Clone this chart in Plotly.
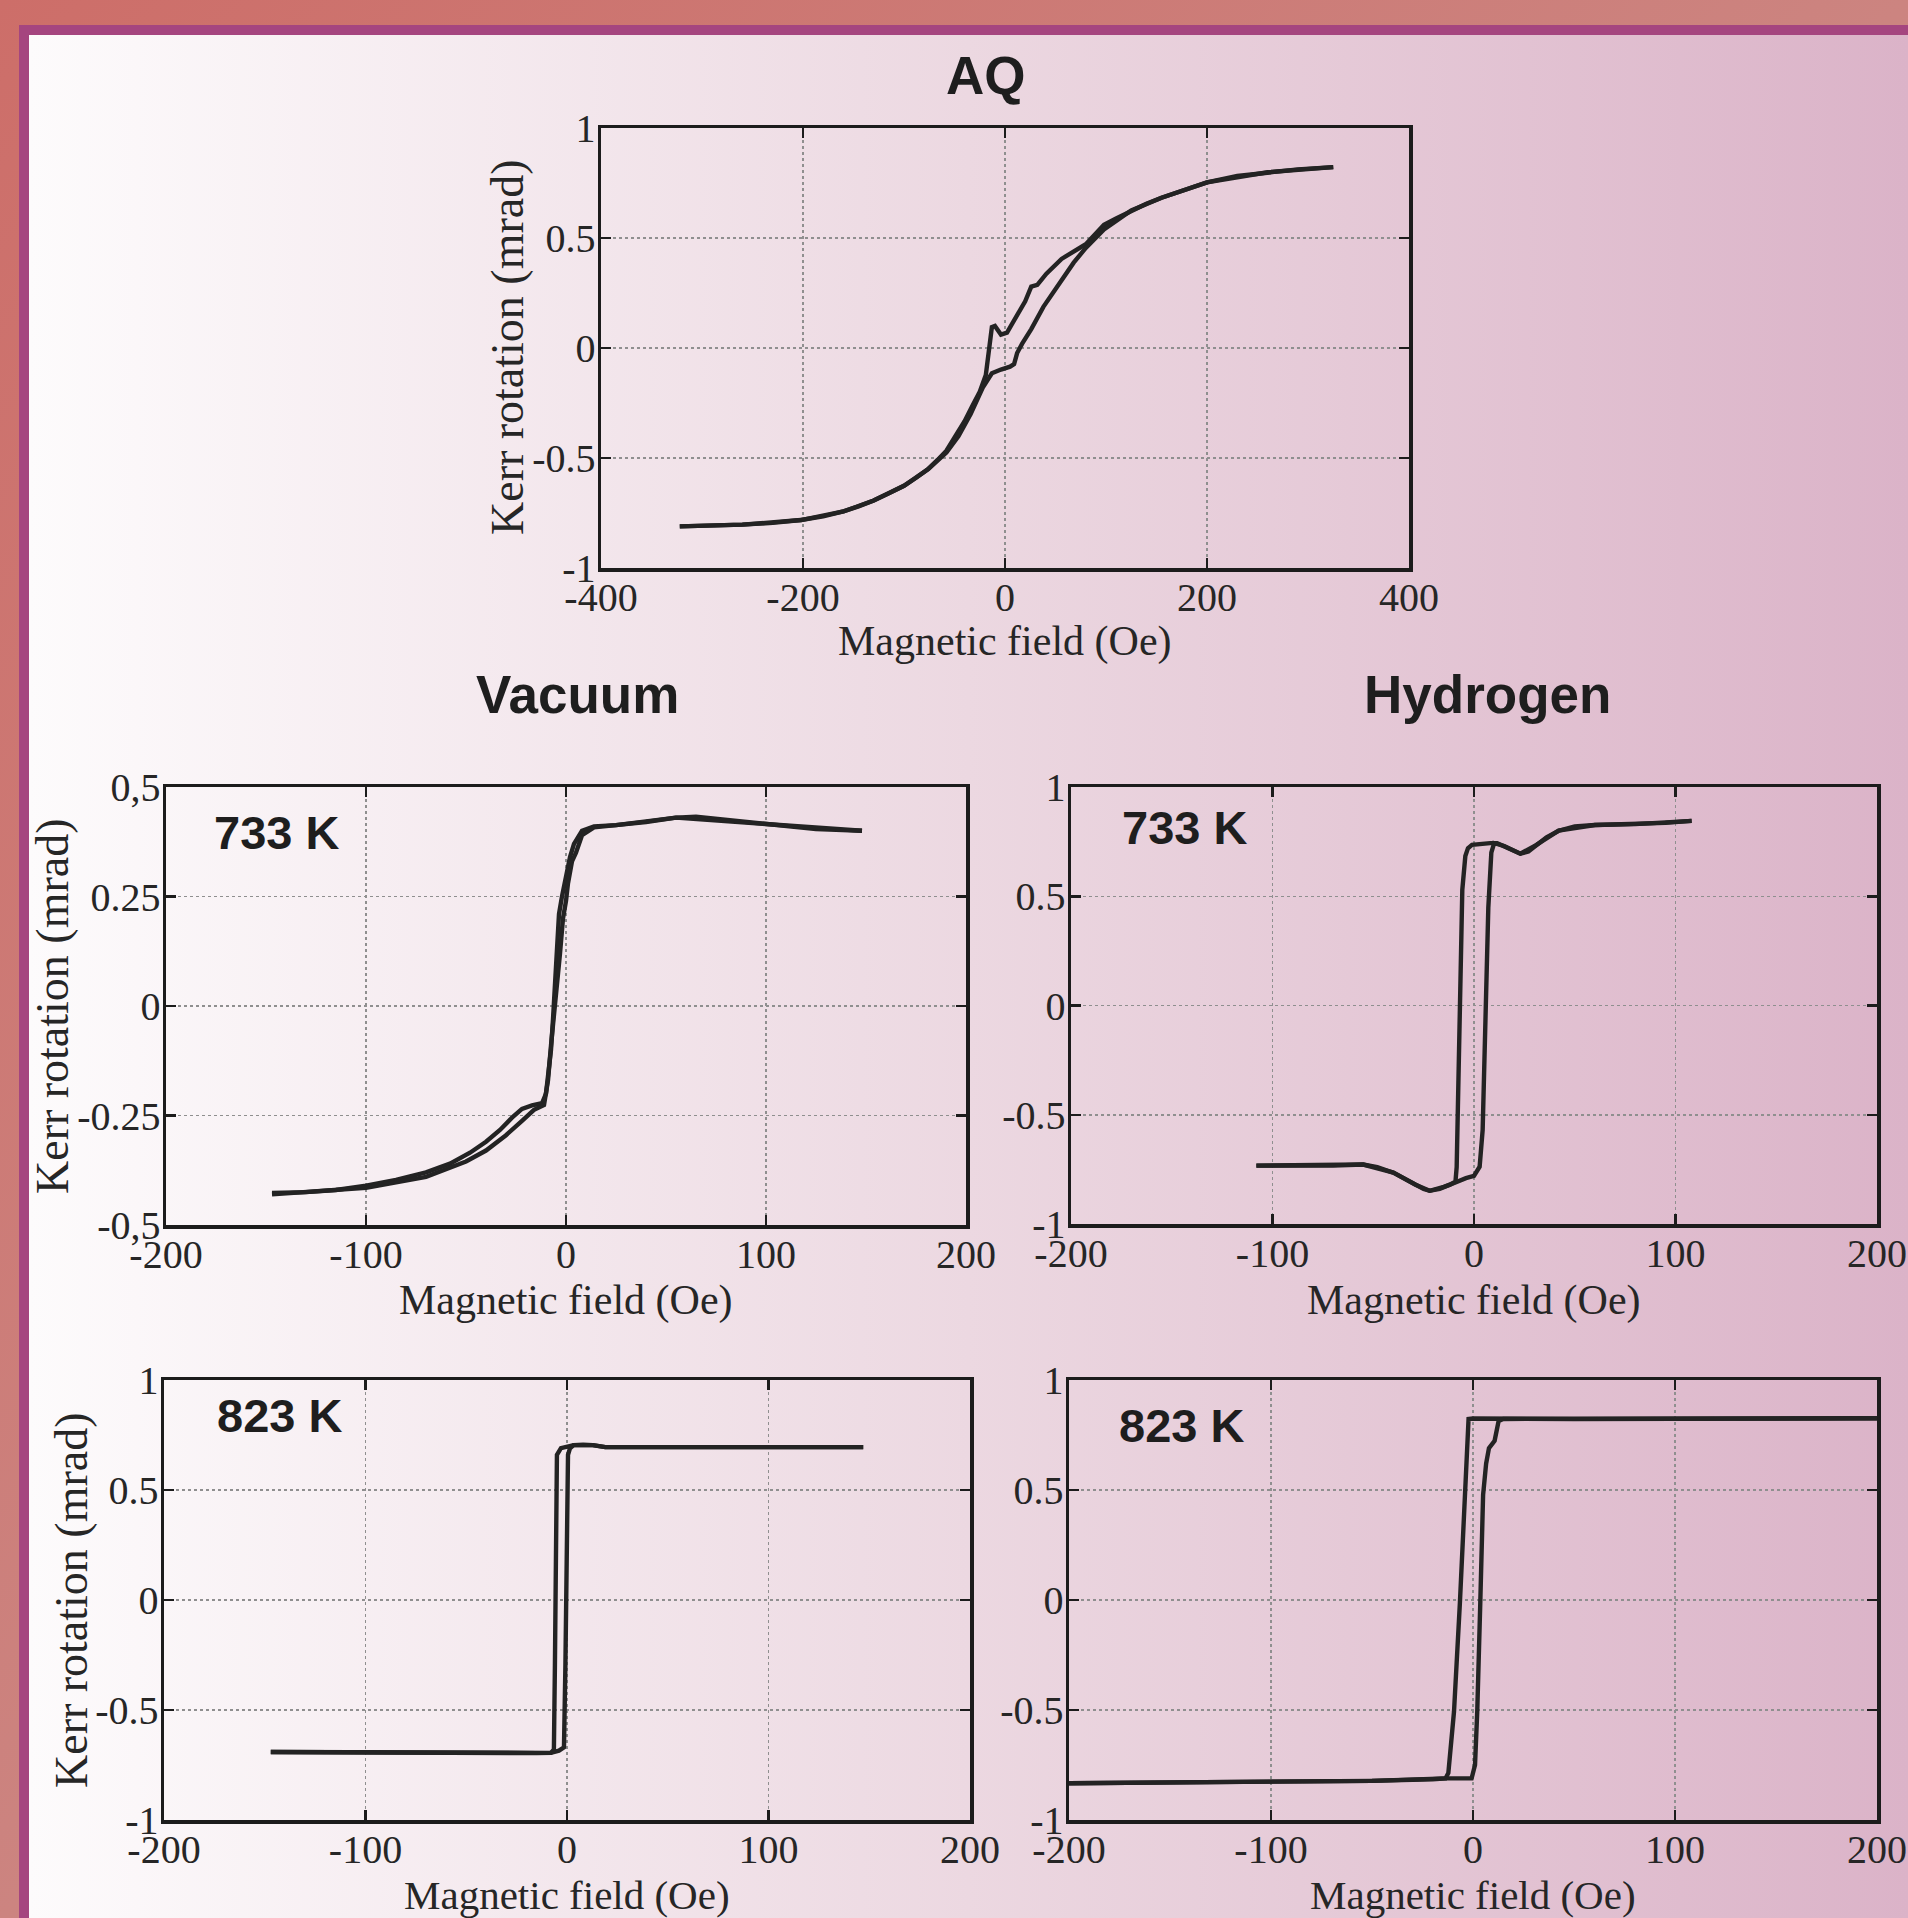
import base64
import plotly.graph_objects as go

W, H = 1908, 1918

# ---------------- data ----------------
# AQ sample: descending branch (upper-left) and ascending branch (lower-right)
aq_field_desc = [-322, -290, -260, -230, -202, -180, -160, -145, -130, -115, -100, -88, -76, -67, -58,
                 -49, -40, -32, -25, -19, -16, -14, -13, -10, -4, 2, 11, 20, 26, 32,
                 41, 56, 80, 98, 110, 125, 140, 155, 170, 185, 200, 230, 260, 290, 325]
aq_kerr_desc = [-0.811, -0.808, -0.803, -0.795, -0.782, -0.765, -0.743, -0.72, -0.693, -0.66, -0.626, -0.59, -0.55, -0.51, -0.467,
                -0.40, -0.333, -0.26, -0.199, -0.123, -0.03, 0.053, 0.095, 0.10, 0.061, 0.07, 0.137, 0.212, 0.279, 0.287,
                0.338, 0.405, 0.472, 0.56, 0.589, 0.625, 0.656, 0.683, 0.706, 0.73, 0.753, 0.782, 0.799, 0.812, 0.822]
aq_field_asc = [-322, -260, -202, -160, -130, -100, -76, -58, -46, -34, -22, -13, -4, 5, 9,
                12, 17, 26, 38, 53, 68, 80, 98, 125, 155, 200, 260, 325]
aq_kerr_asc = [-0.811, -0.803, -0.782, -0.743, -0.693, -0.626, -0.55, -0.475, -0.40, -0.30, -0.18, -0.115, -0.098, -0.085, -0.073,
               -0.023, 0.02, 0.086, 0.187, 0.287, 0.388, 0.455, 0.539, 0.625, 0.683, 0.753, 0.799, 0.822]

# Vacuum, 733 K
v733_field_desc = [-147, -130, -115, -100, -85, -70, -58, -48, -40, -33, -27, -22, -17, -12, -10,
                   -8.5, -7.5, -6.5, -5.5, -4.5, -3.5, -2, 0, 2, 4, 8, 14, 25, 40, 55,
                   65, 80, 95, 110, 125, 135, 148]
v733_kerr_desc = [-0.427, -0.425, -0.42, -0.41, -0.397, -0.38, -0.36, -0.335, -0.31, -0.283, -0.255, -0.235, -0.227, -0.222, -0.20,
                  -0.15, -0.10, -0.03, 0.06, 0.14, 0.21, 0.25, 0.30, 0.34, 0.37, 0.40, 0.41, 0.413, 0.42, 0.43,
                  0.432, 0.425, 0.417, 0.41, 0.404, 0.402, 0.40]
v733_field_asc = [-147, -100, -70, -50, -40, -30, -22, -16, -11, -9, -7.5, -6, -4.5, -3, -1.5,
                  0, 1, 3, 5, 8, 14, 25, 55, 95, 148]
v733_kerr_asc = [-0.43, -0.415, -0.39, -0.355, -0.33, -0.295, -0.262, -0.237, -0.226, -0.17, -0.09, -0.03, 0.05, 0.12, 0.20,
                 0.24, 0.28, 0.33, 0.35, 0.39, 0.408, 0.413, 0.43, 0.417, 0.40]

# Hydrogen, 733 K
h733_field_desc = [-108, -90, -70, -55, -48, -40, -34, -29, -25, -22, -19, -15, -12, -9.2, -8.6,
                   -7.2, -5.8, -4.3, -3, -1, 3, 8, 11.5, 15, 19, 23, 27, 31, 36, 42,
                   50, 60, 70, 80, 95, 108]
h733_kerr_desc = [-0.733, -0.735, -0.733, -0.728, -0.74, -0.765, -0.795, -0.82, -0.84, -0.848, -0.842, -0.83, -0.82, -0.806, -0.74,
                  -0.06, 0.53, 0.684, 0.72, 0.735, 0.74, 0.743, 0.743, 0.73, 0.712, 0.695, 0.705, 0.735, 0.77, 0.80,
                  0.82, 0.826, 0.828, 0.83, 0.836, 0.845]
h733_field_asc = [-108, -55, -40, -29, -22, -17, -12, -8.6, -4, 0, 2.8, 4.3, 5.7, 7.1, 8.6,
                  10, 15, 23, 31, 42, 60, 80, 108]
h733_kerr_asc = [-0.733, -0.728, -0.765, -0.82, -0.848, -0.839, -0.82, -0.805, -0.79, -0.78, -0.738, -0.569, -0.061, 0.447, 0.70,
                 0.743, 0.73, 0.695, 0.735, 0.80, 0.826, 0.83, 0.845]

# Vacuum, 823 K
v823_field_desc = [-147, -120, -90, -60, -30, -15, -8, -6.5, -6, -5.5, -5, -3, 0, 3.3, 8,
                   12.8, 19, 40, 66, 100, 130, 147]
v823_kerr_desc = [-0.691, -0.693, -0.695, -0.696, -0.696, -0.696, -0.695, -0.68, -0.30, 0.30, 0.66, 0.69, 0.698, 0.704, 0.706,
                  0.704, 0.695, 0.695, 0.695, 0.694, 0.695, 0.695]
v823_field_asc = [-147, -60, -15, -8, -4, -1.5, -0.8, 0, 0.5, 1.5, 3.3, 12.8, 19, 66, 147]
v823_kerr_asc = [-0.691, -0.696, -0.696, -0.695, -0.685, -0.67, -0.30, 0.30, 0.66, 0.69, 0.704, 0.704, 0.695, 0.695, 0.695]

# Hydrogen, 823 K
h823_field_desc = [-200, -150, -100, -50, -20, -13.6, -12.2, -9.4, -6.5, -4, -2.2, 0, 15, 50, 100,
                   150, 200]
h823_kerr_desc = [-0.833, -0.83, -0.828, -0.822, -0.815, -0.811, -0.786, -0.507, -0.015, 0.47, 0.823, 0.825, 0.824, 0.823, 0.824,
                  0.825, 0.826]
h823_field_asc = [-200, -50, -13.6, -5, -0.7, 1, 2.1, 3.6, 5, 6.5, 7.9, 10.7, 12.7, 15, 50, 200]
h823_kerr_asc = [-0.833, -0.822, -0.811, -0.81, -0.811, -0.75, -0.507, -0.015, 0.478, 0.62, 0.69, 0.724, 0.814, 0.823, 0.823, 0.826]

# tick values / labels
aq_xticks = [-400, -200, 0, 200, 400]
aq_xlabels = ["-400", "-200", "0", "200", "400"]
x200_ticks = [-200, -100, 0, 100, 200]
x200_labels = ["-200", "-100", "0", "100", "200"]
y1_ticks = [-1, -0.5, 0, 0.5, 1]
y1_labels = ["-1", "-0.5", "0", "0.5", "1"]
y05_ticks = [-0.5, -0.25, 0, 0.25, 0.5]
y05_labels = ["-0,5", "-0.25", "0", "0.25", "0,5"]

# ---------------- helpers ----------------
def px(x):
    return x / W


def py(y):
    return 1 - y / H


LINE = "#232323"
FRAME = "#1c1c1c"
SERIF = "Liberation Serif, Times New Roman, serif"
SANS = "Liberation Sans, Arial, sans-serif"


def axis_style(domain, rng, tickvals, ticktext, standoff):
    return dict(
        domain=domain, range=rng, tickvals=tickvals, ticktext=ticktext,
        automargin=False,
        showgrid=True, gridcolor="#8f8f8f", gridwidth=1.5, griddash="dot",
        zeroline=False, showline=True, linecolor=FRAME, linewidth=3.5,
        mirror="ticks", ticks="inside", ticklen=10, tickwidth=2.5, tickcolor=FRAME,
        tickfont=dict(family=SERIF, size=40, color="#262626"),
        ticklabelstandoff=standoff, fixedrange=True,
    )


XS, YS = -9, -6   # tick label standoffs (x axes, y axes)

fig = go.Figure()

panels = [
    # (suffix, desc_x, desc_y, asc_x, asc_y)
    ("", aq_field_desc, aq_kerr_desc, aq_field_asc, aq_kerr_asc),
    ("2", v733_field_desc, v733_kerr_desc, v733_field_asc, v733_kerr_asc),
    ("3", h733_field_desc, h733_kerr_desc, h733_field_asc, h733_kerr_asc),
    ("4", v823_field_desc, v823_kerr_desc, v823_field_asc, v823_kerr_asc),
    ("5", h823_field_desc, h823_kerr_desc, h823_field_asc, h823_kerr_asc),
]
for suf, dx, dy, ax_, ay in panels:
    for xs, ys in ((dx, dy), (ax_, ay)):
        fig.add_trace(go.Scatter(
            x=xs, y=ys, mode="lines", xaxis="x" + suf, yaxis="y" + suf,
            line=dict(color=LINE, width=4.4), showlegend=False, hoverinfo="skip",
        ))

layout_axes = {}
# AQ
layout_axes["xaxis"] = axis_style([px(601), px(1409)], [-400, 400], aq_xticks, aq_xlabels, XS)
layout_axes["yaxis"] = axis_style([py(568), py(128)], [-1, 1], y1_ticks, y1_labels, YS)
# Vacuum 733
layout_axes["xaxis2"] = axis_style([px(166), px(966)], [-200, 200], x200_ticks, x200_labels, XS)
layout_axes["yaxis2"] = axis_style([py(1225), py(787)], [-0.5, 0.5], y05_ticks, y05_labels, YS)
# Hydrogen 733
layout_axes["xaxis3"] = axis_style([px(1071), px(1877)], [-200, 200], x200_ticks, x200_labels, XS)
layout_axes["yaxis3"] = axis_style([py(1224), py(787)], [-1, 1], y1_ticks, y1_labels, YS)
# Vacuum 823
layout_axes["xaxis4"] = axis_style([px(164), px(970)], [-200, 200], x200_ticks, x200_labels, XS)
layout_axes["yaxis4"] = axis_style([py(1820), py(1380)], [-1, 1], y1_ticks, y1_labels, YS)
# Hydrogen 823
layout_axes["xaxis5"] = axis_style([px(1069), px(1877)], [-200, 200], x200_ticks, x200_labels, XS)
layout_axes["yaxis5"] = axis_style([py(1820), py(1380)], [-1, 1], y1_ticks, y1_labels, YS)
for suf in ["", "2", "3", "4", "5"]:
    layout_axes["xaxis" + suf]["anchor"] = "y" + suf
    layout_axes["yaxis" + suf]["anchor"] = "x" + suf

# background: salmon frame, purple strip, white-to-pink gradient
svg = (
    '<svg xmlns="http://www.w3.org/2000/svg" width="1908" height="1918" viewBox="0 0 1908 1918" preserveAspectRatio="none">'
    '<defs>'
    '<linearGradient id="o" x1="0" y1="0" x2="1" y2="1">'
    '<stop offset="0" stop-color="#CD6E69"/><stop offset="0.5" stop-color="#CC8480"/><stop offset="1" stop-color="#CC9393"/>'
    '</linearGradient>'
    '<linearGradient id="g" x1="0" y1="0" x2="1" y2="0">'
    '<stop offset="0" stop-color="#FDFBFC"/><stop offset="0.5" stop-color="#ECD8E1"/><stop offset="1" stop-color="#DBB3C8"/>'
    '</linearGradient>'
    '</defs>'
    '<rect x="0" y="0" width="1908" height="1918" fill="url(#o)"/>'
    '<rect x="19" y="25" width="1889" height="1893" fill="#A5457F"/>'
    '<rect x="29" y="35" width="1879" height="1883" fill="url(#g)"/>'
    '</svg>'
)
bg_src = "data:image/svg+xml;base64," + base64.b64encode(svg.encode()).decode()

annotations = []


def note(text, x, y, size, family, color="#1e1e1e", xanchor="center", angle=0):
    annotations.append(dict(
        text=text, x=px(x), y=py(y), xref="paper", yref="paper",
        xanchor=xanchor, yanchor="middle", showarrow=False, textangle=angle,
        font=dict(family=family, size=size, color=color),
    ))


# panel titles
note("<b>AQ</b>", 986, 75, 53, SANS)
note("<b>Vacuum</b>", 577, 695, 53, SANS)
note("<b>Hydrogen</b>", 1487, 695, 53, SANS)
# temperature labels
note("<b>733 K</b>", 212, 832, 47, SANS, xanchor="left")
note("<b>733 K</b>", 1120, 828, 47, SANS, xanchor="left")
note("<b>823 K</b>", 215, 1415, 47, SANS, xanchor="left")
note("<b>823 K</b>", 1117, 1425, 47, SANS, xanchor="left")
# axis titles
XT = "Magnetic field (Oe)"
YT = "Kerr rotation (mrad)"
note(XT, 1005, 642, 42, SERIF, color="#262626")
note(XT, 566, 1300, 42, SERIF, color="#262626")
note(XT, 1474, 1300, 42, SERIF, color="#262626")
note(XT, 567, 1895, 41, SERIF, color="#262626")
note(XT, 1473, 1895, 41, SERIF, color="#262626")
note(YT, 508, 347, 46, SERIF, color="#262626", angle=-90)
note(YT, 52, 1006, 46, SERIF, color="#262626", angle=-90)
note(YT, 71, 1600, 46, SERIF, color="#262626", angle=-90)

fig.update_layout(
    width=W, height=H, margin=dict(l=0, r=0, t=0, b=0, pad=0),
    paper_bgcolor="#F3E6EC", plot_bgcolor="rgba(0,0,0,0)",
    showlegend=False,
    images=[dict(source=bg_src, xref="paper", yref="paper", x=0, y=1, sizex=1, sizey=1,
                 xanchor="left", yanchor="top", sizing="stretch", layer="below")],
    annotations=annotations,
    **layout_axes,
)

fig.write_html(
    "out.html",
    config={"displayModeBar": False, "staticPlot": True},
    post_script="document.body.style.margin='0';document.body.style.overflow='hidden';",
)
